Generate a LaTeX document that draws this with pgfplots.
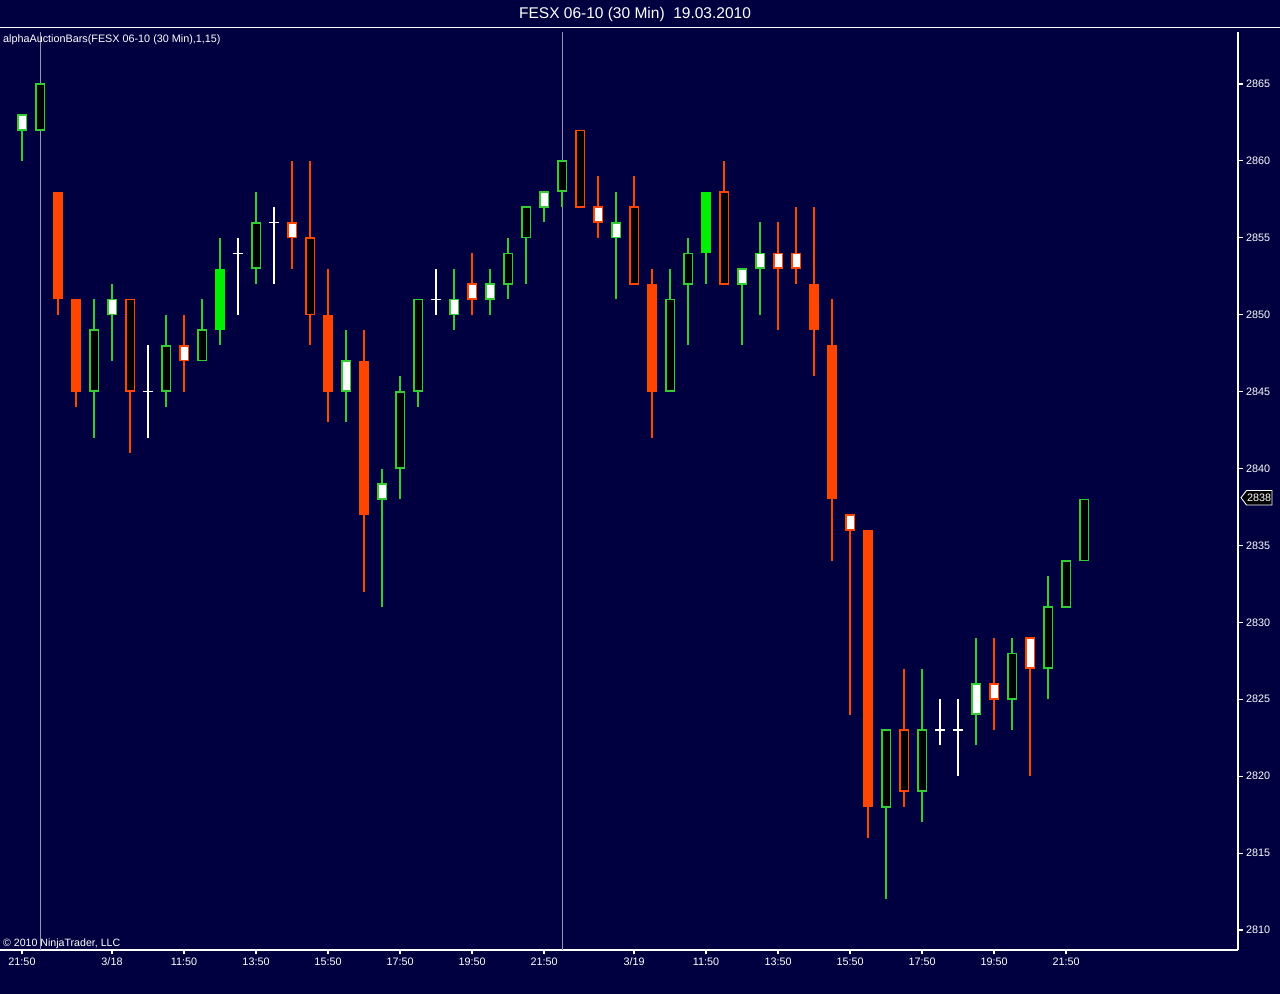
\documentclass[border=0pt]{standalone}
\usepackage{fontspec}
\setmainfont{Liberation Sans}
\usepackage{pgfplots}
\usepackage{pgfplotstable}
\pgfplotsset{compat=1.18}

\definecolor{bgc}{RGB}{0,0,64}
\definecolor{sess}{RGB}{150,150,172}
\definecolor{GO}{RGB}{50,205,50}
\definecolor{GF}{RGB}{0,240,0}
\definecolor{RO}{RGB}{255,69,0}

% s: 1 green hollow, 2 red hollow, 3 red solid, 4 green solid, 5 white/green, 6 white/red, 7 doji
\pgfplotstableread{
i o h l c s
0 2862 2863 2860 2863 5
1 2862 2865 2862 2865 1
2 2858 2858 2850 2851 3
3 2851 2851 2844 2845 3
4 2845 2851 2842 2849 1
5 2850 2852 2847 2851 5
6 2851 2851 2841 2845 2
7 2845 2848 2842 2845 7
8 2845 2850 2844 2848 1
9 2848 2850 2845 2847 6
10 2847 2851 2847 2849 1
11 2849 2855 2848 2853 4
12 2854 2855 2850 2854 7
13 2853 2858 2852 2856 1
14 2856 2857 2852 2856 7
15 2856 2860 2853 2855 6
16 2855 2860 2848 2850 2
17 2850 2853 2843 2845 3
18 2845 2849 2843 2847 5
19 2847 2849 2832 2837 3
20 2838 2840 2831 2839 5
21 2840 2846 2838 2845 1
22 2845 2851 2844 2851 1
23 2851 2853 2850 2851 7
24 2850 2853 2849 2851 5
25 2852 2854 2850 2851 6
26 2851 2853 2850 2852 5
27 2852 2855 2851 2854 1
28 2855 2857 2852 2857 1
29 2857 2858 2856 2858 5
30 2858 2860 2857 2860 1
31 2862 2862 2857 2857 2
32 2857 2859 2855 2856 6
33 2855 2858 2851 2856 5
34 2857 2859 2852 2852 2
35 2852 2853 2842 2845 3
36 2845 2853 2845 2851 1
37 2852 2855 2848 2854 1
38 2854 2858 2852 2858 4
39 2858 2860 2852 2852 2
40 2852 2853 2848 2853 5
41 2853 2856 2850 2854 5
42 2854 2856 2849 2853 6
43 2854 2857 2852 2853 6
44 2852 2857 2846 2849 3
45 2848 2851 2834 2838 3
46 2837 2837 2824 2836 6
47 2836 2836 2816 2818 3
48 2818 2823 2812 2823 1
49 2823 2827 2818 2819 2
50 2819 2827 2817 2823 1
51 2823 2825 2822 2823 7
52 2823 2825 2820 2823 7
53 2824 2829 2822 2826 5
54 2826 2829 2823 2825 6
55 2825 2829 2823 2828 1
56 2829 2829 2820 2827 6
57 2827 2833 2825 2831 1
58 2831 2834 2831 2834 1
59 2834 2838 2834 2838 1
}\ohlc
\pgfplotstablecreatecol[create col/expr={min(\thisrow{o},\thisrow{c})}]{bl}\ohlc
\pgfplotstablecreatecol[create col/expr={max(\thisrow{o},\thisrow{c})}]{bh}\ohlc

\pgfplotsset{
  seg/.style n args={3}{draw=none, mark=none, forget plot,
    x filter/.expression={\thisrow{s}==#1 ? x : nan},
    error bars/.cd, y dir=plus, y explicit, error mark=none,
    error bar style={draw=#2, line width=#3, line cap=butt, mark=none}},
}
\newcommand\wick[2]{\addplot[seg={#1}{#2}{1.1bp}] table[x=i, y=l, y error expr=\thisrow{h}-\thisrow{l}] {\ohlc};}
\newcommand\solid[2]{\addplot[seg={#1}{#2}{9.2bp}] table[x=i, y=bl, y error expr=\thisrow{bh}-\thisrow{bl}] {\ohlc};}
\newcommand\hollow[3]{%
  \addplot[seg={#1}{#2}{9.4bp}] table[x=i, y expr=\thisrow{bl}-0.04, y error expr=\thisrow{bh}-\thisrow{bl}+0.08] {\ohlc};
  \addplot[seg={#1}{#3}{7.0bp}] table[x=i, y expr=\thisrow{bl}+0.075, y error expr=\thisrow{bh}-\thisrow{bl}-0.15] {\ohlc};}

\begin{document}
\begin{tikzpicture}
\fill[bgc] (0,0) rectangle (1280bp,994bp);
\begin{axis}[
  at={(0bp,44bp)}, anchor=south west,
  scale only axis, width=1238bp, height=918bp,
  xmin=-1.2222, xmax=67.5556, ymin=2808.70, ymax=2868.38,
  axis x line*=bottom, axis y line*=right,
  axis line style={-, white, line width=1.3bp},
  tick align=outside, major tick length=4.5bp,
  tick style={white, line width=1.1bp},
  xtick={0,5,9,13,17,21,25,29,34,38,42,46,50,54,58},
  xticklabels={21:50,3/18,11:50,13:50,15:50,17:50,19:50,21:50,3/19,11:50,13:50,15:50,17:50,19:50,21:50},
  ytick={2810,2815,2820,2825,2830,2835,2840,2845,2850,2855,2860,2865},
  scaled y ticks=false,
  /pgf/number format/1000 sep={},
  /pgf/number format/assume math mode=true,
  ticklabel style={font=\fontsize{10.8bp}{13bp}\selectfont, text=white},
  extra x ticks={1,30}, extra x tick labels={},
  extra x tick style={grid=major, major grid style={color=sess, line width=1bp}, major tick length=0pt},
]
% wicks
\wick{1}{GO}
\wick{2}{RO}
\wick{3}{RO}
\wick{4}{GO}
\wick{5}{GO}
\wick{6}{RO}
\wick{7}{white}
% bodies
\hollow{1}{GO}{black}
\hollow{2}{RO}{black}
\solid{3}{RO}
\solid{4}{GF}
\hollow{5}{GO}{white}
\hollow{6}{RO}{white}
\addplot[only marks, mark=-, mark size=4.6bp, white, mark options={line width=1.1bp},
  x filter/.expression={\thisrow{s}==7 ? x : nan}] table[x=i, y=c] {\ohlc};
\end{axis}
\draw[white, line width=1.3bp] (0,966.7bp) -- (1280bp,966.7bp);
\node[anchor=base, text=white, inner sep=0pt, font=\fontsize{15.5bp}{18bp}\selectfont] at (635bp,975.7bp) {FESX 06-10 (30 Min)\hspace{0.28em} 19.03.2010};
\node[anchor=base west, text=white, inner sep=0pt, font=\fontsize{10.8bp}{13bp}\selectfont] at (3bp,951bp) {alphaAuctionBars(FESX 06-10 (30 Min),1,15)};
\node[anchor=base west, text=white, inner sep=0pt, font=\fontsize{10.6bp}{13bp}\selectfont] at (3bp,47.5bp) {© 2010 NinjaTrader, LLC};
\draw[white, fill=black, line width=0.9bp] (1241bp,496.3bp) -- (1246.5bp,503.5bp) -- (1272bp,503.5bp) -- (1272bp,489bp) -- (1246.5bp,489bp) -- cycle;
\node[text=white, inner sep=0pt, font=\fontsize{10.8bp}{13bp}\selectfont] at (1259bp,496.3bp) {2838};
\pgfresetboundingbox
\useasboundingbox (0,0) rectangle (1280bp,994bp);
\end{tikzpicture}
\end{document}
